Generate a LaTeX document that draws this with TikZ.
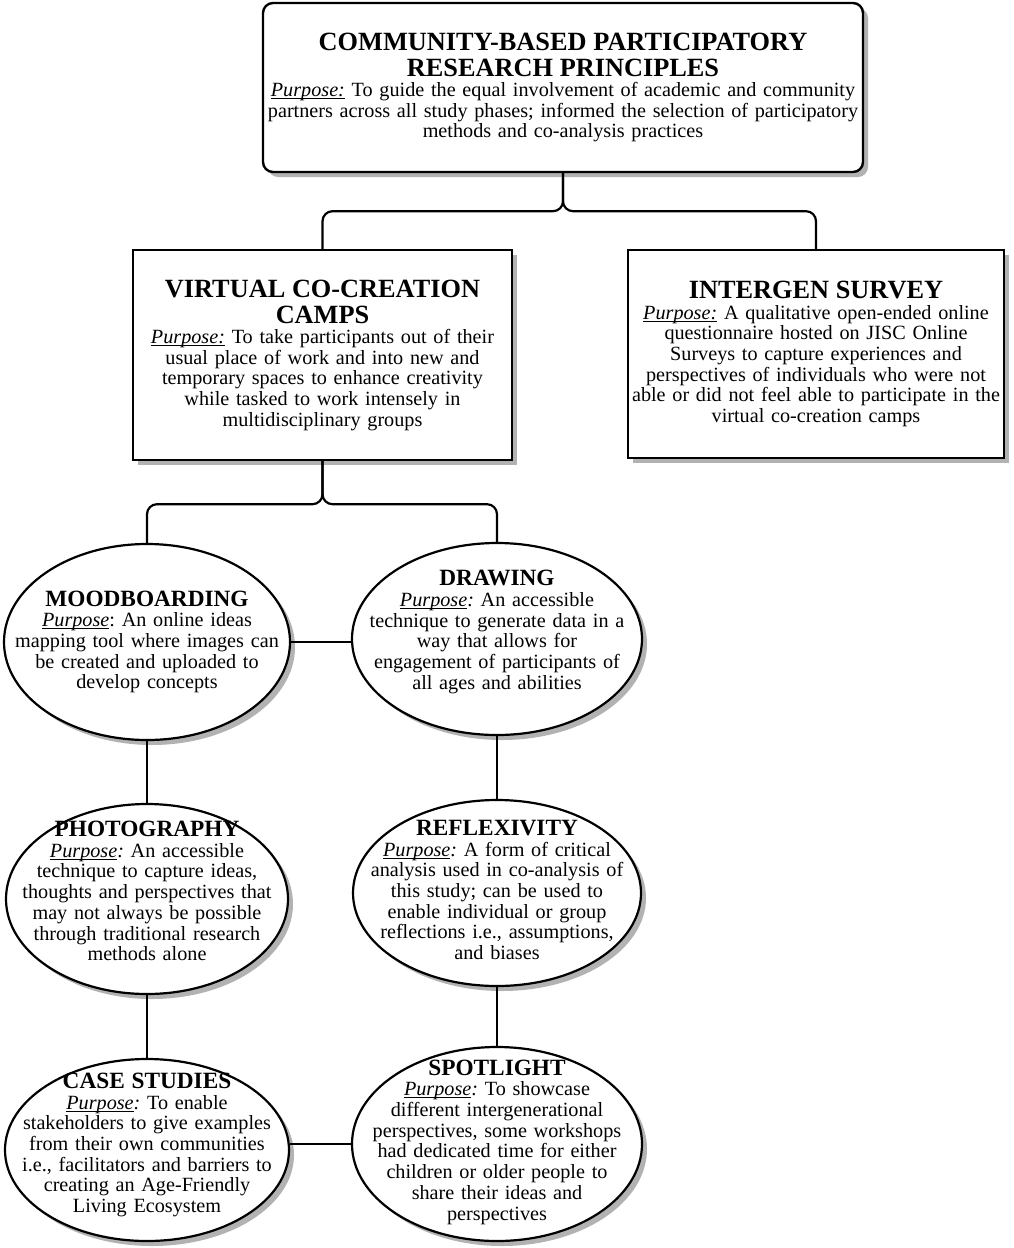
\documentclass[tikz,border=0pt]{standalone}
\usepackage{fontspec}
\setmainfont{Liberation Serif}
\usetikzlibrary{shapes.geometric,shadows}
\frenchspacing
\newcommand\boxtitle[1]{{\fontsize{26.3}{26}\selectfont\bfseries #1\par}}
\newcommand\elltitle[1]{{\fontsize{23.3}{24}\selectfont\bfseries #1\par}}
\newsavebox\ulbox
\newcommand\myul[1]{\leavevmode\sbox\ulbox{#1}\rlap{\rule[-2.6pt]{\wd\ulbox}{1.1pt}}\usebox\ulbox}
\newcommand\purp{\myul{\textit{Purpose:}}}
\newcommand\purpb{\myul{\textit{Purpose}}\textit{:}}
\newcommand\purpc{\myul{\textit{Purpose}}:}
\tikzset{
 shad/.style={drop shadow={shadow xshift=5pt,shadow yshift=-5pt,fill=black!30,opacity=1}},
 box/.style={draw=black,line width=2.4pt,fill=white,shad,rectangle,inner sep=0pt,align=center,font=\fontsize{20.2}{20.6}\selectfont\frenchspacing},
 ell/.style={draw=black,line width=2.2pt,fill=white,shad,ellipse,inner sep=0pt},
 etext/.style={align=center,text width=#1,inner sep=0pt,font=\fontsize{20.2}{20.7}\selectfont\frenchspacing},
 etext/.default=290pt,
 conn/.style={draw=black,line width=2.2pt,rounded corners=10pt},
}
\begin{document}
\begin{tikzpicture}[x=1pt,y=-1pt]
\useasboundingbox[fill=white] (0,0) rectangle (1013,1248);
% boxes
\node[box,rounded corners=10pt,minimum width=600pt,minimum height=169pt,text width=600pt] (top) at (563,87.5)
 {\boxtitle{COMMUNITY-BASED PARTICIPATORY\\RESEARCH PRINCIPLES}\purp{} To guide the equal involvement of academic and community\\partners across all study phases; informed the selection of participatory\\methods and co-analysis practices};
\node[box,minimum width=379pt,minimum height=210pt,text width=379pt] (vc) at (322.5,355)
 {\boxtitle{VIRTUAL CO-CREATION\\CAMPS}\purp{} To take participants out of their\\usual place of work and into new and\\temporary spaces to enhance creativity\\while tasked to work intensely in\\multidisciplinary groups};
\node[box,minimum width=376pt,minimum height=208pt,text width=376pt] (ig) at (816,354)
 {\boxtitle{INTERGEN SURVEY}\purp{} A qualitative open-ended online\\questionnaire hosted on JISC Online\\Surveys to capture experiences and\\perspectives of individuals who were not\\able or did not feel able to participate in the\\virtual co-creation camps};
% ellipses
\node[ell,minimum width=286pt,minimum height=196pt] (mood) at (147,642) {};
\node[etext] (moodt) at (147,642)
 {\elltitle{MOODBOARDING}\purpc{} An online ideas\\mapping tool where images can\\be created and uploaded to\\develop concepts};
\node[ell,minimum width=290pt,minimum height=192pt] (draw) at (497,639) {};
\node[etext] (drawt) at (497,632)
 {\elltitle{DRAWING}\purpb{} An accessible\\technique to generate data in a\\way that allows for\\engagement of participants of\\all ages and abilities};
\node[ell,minimum width=282pt,minimum height=190pt] (photo) at (147,899) {};
\node[etext] (photot) at (147,891)
 {\elltitle{PHOTOGRAPHY}\purpb{} An accessible\\technique to capture ideas,\\thoughts and perspectives that\\may not always be possible\\through traditional research\\methods alone};
\node[ell,minimum width=288pt,minimum height=186pt] (refl) at (497,893) {};
\node[etext] (reflt) at (497,890)
 {\elltitle{REFLEXIVITY}\purpb{} A form of critical\\analysis used in co-analysis of\\this study; can be used to\\enable individual or group\\reflections i.e., assumptions,\\and biases};
\node[ell,minimum width=284pt,minimum height=182pt] (case) at (147,1150) {};
\node[etext] (caset) at (147,1145)
 {\elltitle{CASE STUDIES}\purpb{} To enable\\stakeholders to give examples\\from their own communities\\i.e., facilitators and barriers to\\creating an Age-Friendly\\Living Ecosystem};
\node[ell,minimum width=290pt,minimum height=194pt] (spot) at (497,1144) {};
\node[etext] (spott) at (497,1142)
 {\elltitle{SPOTLIGHT}\purpb{} To showcase\\different intergenerational\\perspectives, some workshops\\had dedicated time for either\\children or older people to\\share their ideas and\\perspectives};
% connectors
\draw[conn] (top.south) -- ++(0,38) -| (vc.north);
\draw[conn] (top.south) -- ++(0,38) -| (ig.north);
\draw[conn] (vc.south) -- ++(0,43) -| (mood.north);
\draw[conn] (vc.south) -- ++(0,43) -| (draw.north);
\draw[conn] (mood.east) -- (mood.east -| draw.west);
\draw[conn] (mood.south) -- (photo.north);
\draw[conn] (draw.south) -- (refl.north);
\draw[conn] (photo.south) -- (case.north);
\draw[conn] (refl.south) -- (spot.north);
\draw[conn] (case.east |- spot.west) -- (spot.west);
\end{tikzpicture}
\end{document}
